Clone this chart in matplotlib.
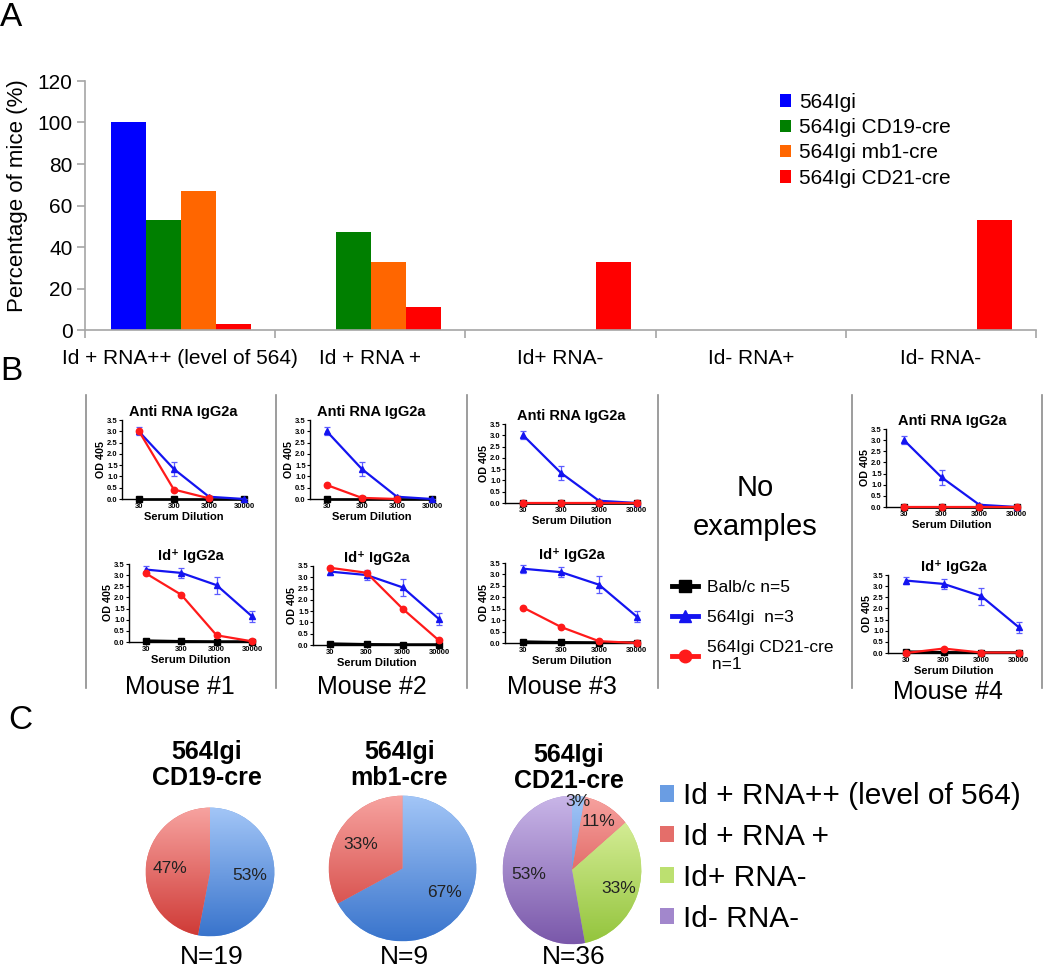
import numpy as np
import matplotlib
matplotlib.use("Agg")
import matplotlib.pyplot as plt
from matplotlib.patches import Patch
from matplotlib.lines import Line2D
from matplotlib.colors import LinearSegmentedColormap

plt.rcParams['font.family'] = ['Liberation Sans', 'DejaVu Sans']

# ---- data ----
categories = ['Id + RNA++ (level of 564)', 'Id + RNA +', 'Id+ RNA-', 'Id- RNA+', 'Id- RNA-']
strains = ['564Igi', '564Igi CD19-cre', '564Igi mb1-cre', '564Igi CD21-cre']
pct_igi = [100, 0, 0, 0, 0]
pct_cd19 = [53, 47, 0, 0, 0]
pct_mb1 = [67, 33, 0, 0, 0]
pct_cd21 = [3, 11, 33, 0, 53]
bar_colors = ['#0000FF', '#007F00', '#FF6600', '#FF0000']

dilutions = [30, 300, 3000, 30000]
balbc_rna = [0.0, 0.0, 0.0, 0.0]
balbc_id = [0.06, 0.03, 0.02, 0.02]
igi_rna = [3.0, 1.33, 0.1, 0.0]
igi_rna_err = [0.18, 0.33, 0.05, 0.0]
igi_id = [3.25, 3.1, 2.55, 1.15]
igi_id_err = [0.17, 0.22, 0.38, 0.25]
cd21_rna = {
    1: [3.02, 0.42, 0.03, np.nan],
    2: [0.62, 0.05, 0.0, np.nan],
    3: [0.0, 0.0, 0.0, 0.0],
    4: [0.0, 0.0, 0.0, 0.0],
}
cd21_id = {
    1: [3.08, 2.12, 0.3, 0.03],
    2: [3.42, 3.2, 1.6, 0.2],
    3: [1.55, 0.7, 0.08, 0.0],
    4: [0.0, 0.2, 0.02, 0.02],
}

pie_strains = ['564Igi\nCD19-cre', '564Igi\nmb1-cre', '564Igi\nCD21-cre']
pie_n = [19, 9, 36]
pie_tops = ['#A3C6F7', '#F7A3A0', '#E2F5A8', '#C9B6E8']
pie_bottoms = ['#3974CC', '#CF3A36', '#93C43C', '#7A58AA']
pie_mid = ['#6A9DE3', '#E46E6A', '#BCE070', '#A287CC']

W, H = 1050, 971
fig = plt.figure(figsize=(W / 100, H / 100), dpi=100)


def px_axes(x0, y0, x1, y1):
    return fig.add_axes([x0 / W, 1 - y1 / H, (x1 - x0) / W, (y1 - y0) / H])


def ftext(x, y, s, **kw):
    return fig.text(x / W, 1 - y / H, s, **kw)


# ---- panel A ----
ax = px_axes(85, 81, 1036, 330)
bw = 0.184
for k, (vals, c) in enumerate(zip([pct_igi, pct_cd19, pct_mb1, pct_cd21], bar_colors)):
    x = np.arange(len(categories)) + 0.137 + k * bw
    ax.bar(x, vals, width=bw, align='edge', color=c, label=strains[k])
ax.set_xlim(0, 5)
ax.set_ylim(0, 120)
ax.set_yticks(range(0, 121, 20))
ax.set_xticks(range(6))
ax.set_xticklabels([])
ax.set_xticks(np.arange(5) + 0.5, minor=True)
ax.set_xticklabels(categories, minor=True, fontsize=15)
ax.tick_params(axis='x', which='minor', length=0, pad=14)
ax.tick_params(axis='x', which='major', length=6, color='#A6A6A6', width=1.2)
ax.tick_params(axis='y', length=6, color='#A6A6A6', width=1.2, labelsize=15, pad=3)
for s in ['top', 'right']:
    ax.spines[s].set_visible(False)
for s in ['left', 'bottom']:
    ax.spines[s].set_color('#A6A6A6')
    ax.spines[s].set_linewidth(1.2)
ftext(18, 196, 'Percentage of mice (%)', rotation=90, ha='center', va='center', fontsize=16)
leg = ax.legend(loc='upper left', bbox_to_anchor=(780 / W, 1 - 93 / H), bbox_transform=fig.transFigure,
                frameon=False, fontsize=15, handlelength=0.55, handleheight=0.55, handletextpad=0.35,
                labelspacing=0.3, borderpad=0, borderaxespad=0)

ftext(0, 17, 'A', fontsize=24, va='center')
ftext(0, 372, 'B', fontsize=24, va='center')
ftext(8, 720, 'C', fontsize=24, va='center')

# ---- panel B ----
for xs in [86, 276, 467, 658, 852, 1042]:
    fig.add_artist(Line2D([xs / W, xs / W], [1 - 395 / H, 1 - 688 / H], color='#8C8C8C', lw=1.2))

boxes = {
    (1, 'rna'): (122, 420, 245, 499), (1, 'id'): (129, 564, 253, 642),
    (2, 'rna'): (310, 420, 433, 499), (2, 'id'): (313, 566, 440, 645),
    (3, 'rna'): (505, 424, 638, 503), (3, 'id'): (505, 563, 638, 643),
    (4, 'rna'): (886, 429, 1018, 507), (4, 'id'): (888, 575, 1020, 653),
}
blue = '#1414F0'
red = '#FF1A1A'
for (m, kind), box in boxes.items():
    a = px_axes(*box)
    if kind == 'rna':
        bal, igi, err, cd = balbc_rna, igi_rna, igi_rna_err, cd21_rna[m]
        title = 'Anti RNA IgG2a'
    else:
        bal, igi, err, cd = balbc_id, igi_id, igi_id_err, cd21_id[m]
        title = 'Id\u207a IgG2a'
    a.plot(dilutions, bal, color='black', marker='s', ms=3.8, lw=1.9, clip_on=False, zorder=3)
    a.errorbar(dilutions, igi, yerr=err, color=blue, marker='^', ms=3.8, lw=1.6, ecolor='#5C5CFF',
               elinewidth=0.9, capsize=2.5, capthick=0.9, clip_on=False, zorder=4)
    a.plot(dilutions, cd, color=red, marker='o', ms=4.6, lw=1.6, clip_on=False, zorder=5)
    a.set_xscale('log')
    a.set_xlim(10, 32000)
    a.set_ylim(0, 3.5)
    a.set_xticks(dilutions)
    a.set_xticklabels([str(d) for d in dilutions], fontsize=5.5, fontweight='bold')
    a.minorticks_off()
    a.set_yticks(np.arange(0, 3.51, 0.5))
    a.set_yticklabels(['%.1f' % v for v in np.arange(0, 3.51, 0.5)], fontsize=5.5, fontweight='bold')
    a.tick_params(length=2, width=0.8, pad=1)
    for s in ['top', 'right']:
        a.spines[s].set_visible(False)
    for s in ['left', 'bottom']:
        a.spines[s].set_linewidth(1.0)
    a.set_title(title, fontsize=10.5, fontweight='bold', pad=3)
    a.set_ylabel('OD 405', fontsize=7.7, fontweight='bold', labelpad=1)
    a.set_xlabel('Serum Dilution', fontsize=8, fontweight='bold', labelpad=1)

for txt, x, y in [('Mouse #1', 180, 687), ('Mouse #2', 372, 687), ('Mouse #3', 562, 687), ('Mouse #4', 948, 692)]:
    ftext(x, y, txt, fontsize=18, ha='center', va='center')

ftext(755, 488, 'No', fontsize=21, ha='center', va='center')
ftext(755, 527, 'examples', fontsize=21, ha='center', va='center')

b_handles = [
    Line2D([], [], color='black', marker='s', ms=8, lw=3.5),
    Line2D([], [], color=blue, marker='^', ms=9, lw=3.5),
    Line2D([], [], color=red, marker='o', ms=9, lw=3.5),
]
fig.legend(b_handles, ['Balb/c n=5', '564Igi  n=3', '564Igi CD21-cre\n n=1'],
           loc='upper left', bbox_to_anchor=(672 / W, 1 - 580 / H), frameon=False, fontsize=12.5,
           handlelength=1.5, handletextpad=0.5, labelspacing=0.85, borderpad=0, borderaxespad=0)

# ---- panel C ----
pie_data = [pct_cd19, pct_mb1, pct_cd21]
pie_boxes = [(145, 807, 275, 937), (328, 795, 477, 942), (502, 795, 642, 945)]
label_r = [[0.62, 0.62], [0.66, 0.66], [0.92, 0.76, 0.72, 0.62]]
title_y = [765, 765, 768]
grad = np.linspace(0, 1, 256).reshape(-1, 1)
for i, (vals, box) in enumerate(zip(pie_data, pie_boxes)):
    idx = [j for j, v in enumerate(vals) if v > 0]
    cidx = [j if j < 4 else 3 for j in idx]
    a = px_axes(*box)
    wedges, _ = a.pie([vals[j] for j in idx], startangle=90, counterclock=False,
                      colors=[pie_mid[c] for c in cidx], wedgeprops=dict(linewidth=0))
    for w, c in zip(wedges, cidx):
        cmap = LinearSegmentedColormap.from_list('g', [pie_bottoms[c], pie_tops[c]])
        im = a.imshow(grad, cmap=cmap, extent=(-1, 1, -1, 1), origin='lower', aspect='auto', zorder=2)
        im.set_clip_path(w)
    for w, j, r in zip(wedges, idx, label_r[i]):
        th = np.deg2rad((w.theta1 + w.theta2) / 2)
        a.text(r * np.cos(th), r * np.sin(th), '%d%%' % vals[j], ha='center', va='center',
               fontsize=12.5, color='#222222', zorder=5)
    a.set_aspect('auto')
    a.set_xlim(-1.01, 1.01)
    a.set_ylim(-1.01, 1.01)
    cx = (box[0] + box[2]) / 2
    ftext(cx - 3, title_y[i], pie_strains[i], fontsize=18, fontweight='bold', ha='center', va='center',
          linespacing=1.15)
    ftext(cx + 2, 957, 'N=%d' % pie_n[i], fontsize=19, ha='center', va='center')

c_labels = [categories[0], categories[1], categories[2], categories[4]]
c_handles = [Patch(facecolor=pie_mid[k], edgecolor='none') for k in range(4)]
fig.legend(c_handles, c_labels, loc='upper left', bbox_to_anchor=(660 / W, 1 - 782 / H), frameon=False,
           fontsize=21.5, handlelength=0.47, handleheight=0.47, handletextpad=0.3, labelspacing=0.43,
           borderpad=0, borderaxespad=0)

fig.savefig('out.png', dpi=100)
